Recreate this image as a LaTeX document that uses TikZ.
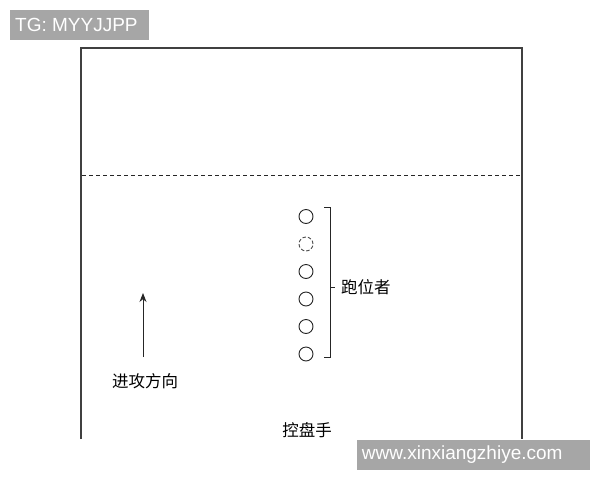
\documentclass[tikz,border=0pt]{standalone}
\usepackage{fontspec}
\setmainfont{Liberation Sans}
\newfontfamily\cjk{Noto Sans CJK SC}
\usetikzlibrary{arrows.meta,positioning}

\tikzset{
  runner/.style={draw=black!85, circle, line width=0.9pt, minimum size=14pt, inner sep=0pt},
  gap runner/.style={runner, draw=black!70, dash pattern=on 3.5pt off 2pt},
  label/.style={font=\cjk\fontsize{16.5}{16.5}\selectfont, inner sep=0pt},
  mark box/.style={fill=black!35, inner sep=0pt, anchor=north west},
  mark text/.style={text=white, font=\fontsize{19}{19}\selectfont, inner sep=0pt, anchor=west}
}

\begin{document}
\begin{tikzpicture}[x=1pt,y=-1pt]
\useasboundingbox (0,0) rectangle (600,480);

% court
\draw[black!75, line width=1.1pt] (81,439) -- (81,48) -- (522,48) -- (522,439);
\draw[black!85, line width=1pt, dash pattern=on 4pt off 3pt] (82,175) -- (521,175);

% runners
\foreach \i/\st in {1/runner,2/gap runner,3/runner,4/runner,5/runner,6/runner} {
  \node[\st] (r\i) at (306,{216.5+27.5*(\i-1)}) {};
}

\coordinate (btop) at (330,207);
\coordinate (bbot) at (330,357);
\coordinate (bmid) at (330,287);
\coordinate (bend) at (335,287);
\node[label, anchor=west] (runners) at (341,287) {跑位者};
\draw[black!85, line width=0.9pt] ([xshift=-6pt]btop) -- (btop) -- (bbot) -- ([xshift=-6pt]bbot);
\draw[black!85, line width=0.9pt] (bmid) -- (bend);

% direction
\coordinate (atail) at (143,357);
\coordinate (ahead) at (143,293);
\draw[-{Stealth[length=9pt,width=7pt]}, black!85, line width=0.9pt] (atail) -- (ahead);
\node[label] (dir) at (145,381) {进攻方向};

\node[label] (handler) at (307,430.5) {控盘手};

% watermarks
\node[mark box, minimum width=138.3pt, minimum height=29.3pt] (tg) at (10,10) {};
\node[mark text] (tgtext) at ([xshift=5pt]tg.west) {TG: MYYJJPP};
\node[mark box, minimum width=233.3pt, minimum height=29.3pt] (web) at (356.7,440) {};
\node[mark text] (webtext) at ([xshift=5pt]web.west) {www.xinxiangzhiye.com};
\end{tikzpicture}
\end{document}
